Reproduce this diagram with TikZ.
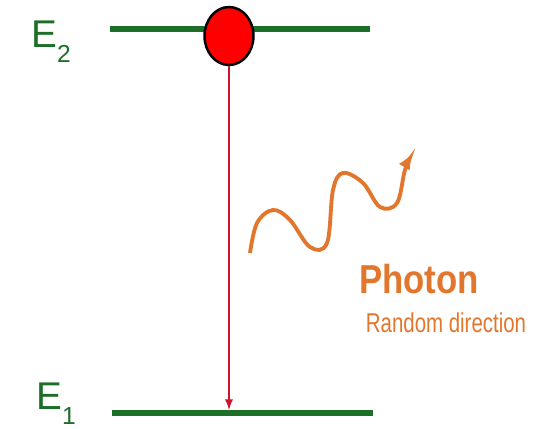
\documentclass[tikz,border=0pt]{standalone}
\usepackage{fontspec}
\usetikzlibrary{shapes.geometric}
\setmainfont{Liberation Sans}
\newfontfamily\narrowfont[FakeStretch=0.75]{Liberation Sans}
\newfontfamily\boldnarrowfont[FakeStretch=0.86]{Liberation Sans Bold}
\definecolor{levelgreen}{RGB}{28,110,40}
\definecolor{photonorange}{RGB}{226,118,44}
\definecolor{arrowred}{RGB}{205,20,45}

\begin{document}
\begin{tikzpicture}[
    level/.style={levelgreen,line width=3.4pt},
    elabel/.style={levelgreen,anchor=base west,inner sep=0pt,font=\fontsize{22}{22}\selectfont},
  ]
  \useasboundingbox (0,0) rectangle (11.08,8.56);
  % energy levels
  \coordinate (e2l) at (2.2,7.98);
  \coordinate (e2r) at (7.4,7.98);
  \coordinate (e1l) at (2.24,0.3);
  \coordinate (e1r) at (7.46,0.3);
  \draw[level] (e2l) -- (e2r);
  \draw[level] (e1l) -- (e1r);
  \node[elabel] (E2) at (0.62,7.62) {E\raisebox{-0.4em}{\fontsize{14}{14}\selectfont 2}};
  \node[elabel] (E1) at (0.72,0.38) {E\raisebox{-0.4em}{\fontsize{14}{14}\selectfont 1}};
  % electron and its drop
  \node[ellipse,draw=black,line width=1.4pt,fill=red,minimum width=0.98cm,minimum height=1.16cm,inner sep=0pt]
    (electron) at (4.58,7.84) {};
  \coordinate (drop) at (4.58,0.36);
  \draw[arrowred,line width=1.1pt,-latex] (electron.south) -- (drop);
  % emitted photon
  \draw[photonorange,line width=2.2pt,-latex] plot[smooth,tension=0.6] coordinates {
    (5.0,3.5) (5.14,4.1) (5.46,4.36) (5.8,4.16) (6.2,3.62) (6.54,3.7)
    (6.66,4.76) (6.86,5.1) (7.26,4.9) (7.6,4.42) (7.94,4.5) (8.1,5.16) (8.26,5.5)};
  \node[photonorange,font=\boldnarrowfont\fontsize{23}{23}\selectfont] (photon) at (8.38,2.98) {Photon};
  \node[photonorange,font=\narrowfont\fontsize{15.5}{15.5}\selectfont] (direction) at (8.92,2.1) {Random direction};
\end{tikzpicture}
\end{document}
